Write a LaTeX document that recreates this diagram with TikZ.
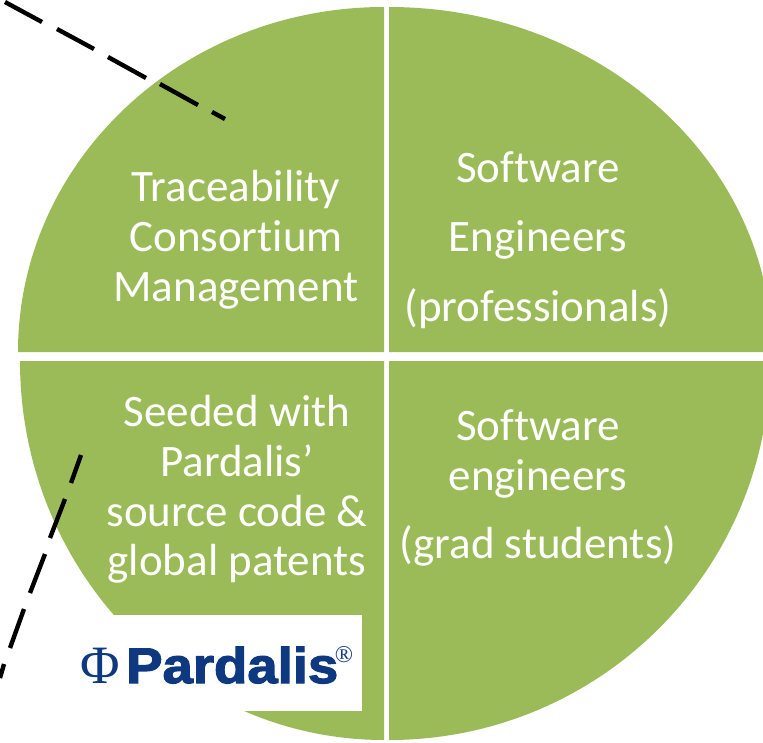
\documentclass[tikz,border=0pt]{standalone}
\usepackage{fontspec}
\setmainfont[Ligatures=NoCommon]{Carlito}
\newfontfamily\logofont[FakeStretch=1.09,FakeBold=2.4]{Liberation Sans Bold}
\newfontfamily\phifont{Liberation Serif}
\definecolor{pie}{HTML}{9BBB59}
\definecolor{navy}{HTML}{0E3880}
\tikzset{x=1pt,y=-1pt,
  sector/.style={fill=pie,draw=none},
  lab/.style={text=white,font=\fontsize{45}{45}\selectfont,inner sep=0pt,anchor=base,align=center},
  dashline/.style={line width=4.4pt,black}}
\begin{document}
\begin{tikzpicture}
\useasboundingbox (0,0) rectangle (763,742);
\begin{scope}
\clip (0,0) rectangle (763,742);
\fill[sector] (384,352) -- (18,352) arc[start angle=180,end angle=90,x radius=366,y radius=-345] -- cycle;
\fill[sector] (389,352) -- (389,7) arc[start angle=90,end angle=0,x radius=383,y radius=-345] -- cycle;
\fill[sector] (384,361) -- (20,361) arc[start angle=180,end angle=270,x radius=364,y radius=-379] -- cycle;
\fill[sector] (389,361) -- (389,740) arc[start angle=270,end angle=360,x radius=381,y radius=-379] -- cycle;
\end{scope}
\node[fill=white,minimum width=251,minimum height=96,inner sep=0pt,anchor=north west] (logobox) at (111,615) {};
\node[lab] (t1) at (236,201) {Traceability};
\node[lab] (t2) at (236,251) {Consortium};
\node[lab] (t3) at (236,301) {Management};
\node[lab] (s1) at (538,182) {Software};
\node[lab] (s2) at (538,251) {Engineers};
\node[lab] (s3) at (538,321) {(professionals)};
\node[lab] (p1) at (237,426) {Seeded with};
\node[lab] (p2) at (237,476) {Pardalis’};
\node[lab] (p3) at (237,526) {source code \&};
\node[lab] (p4) at (237,575) {global patents};
\node[lab] (g1) at (538,440) {Software};
\node[lab] (g2) at (538,490) {engineers};
\node[lab] (g3) at (538,558) {(grad students)};
\node[inner sep=0pt,anchor=base,text=navy,font=\phifont\fontsize{54}{54}\selectfont] (phi) at (100,683) {Φ};
\node[inner sep=0pt,anchor=base west,text=navy,font=\logofont\fontsize{50}{50}\selectfont] (logo) at (126,683) {Pardalis};
\node[inner sep=0pt,anchor=base,text=navy,font=\phifont\fontsize{24}{24}\selectfont] (reg) at (344,662) {®};
\draw[dashline] (5,2) -- (42,22);
\draw[dashline] (57,29) -- (94,49);
\draw[dashline] (108,57) -- (146,78);
\draw[dashline] (160,84) -- (198,105);
\draw[dashline] (212,112) -- (225,119);
\draw[dashline] (81,455) -- (71,483);
\draw[dashline] (65,499) -- (50,538);
\draw[dashline] (45,554) -- (30,593);
\draw[dashline] (24,609) -- (10,648);
\draw[dashline] (4,664) -- (0,678);
\end{tikzpicture}
\end{document}
